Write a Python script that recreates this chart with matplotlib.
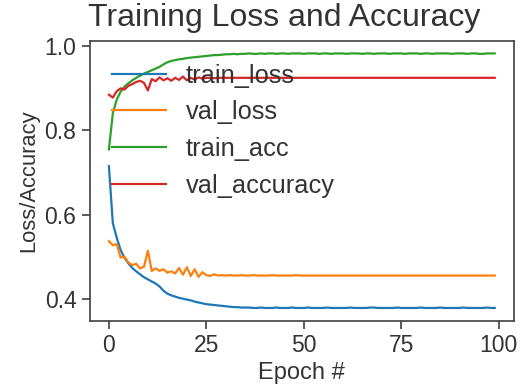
import numpy as np
import matplotlib
matplotlib.use("Agg")
from matplotlib import pyplot as plt

# values, one per epoch (0..99)
train_loss = [0.715, 0.580, 0.545, 0.516, 0.497, 0.484, 0.473, 0.465, 0.458, 0.451,
              0.446, 0.441, 0.436, 0.429, 0.419, 0.412, 0.408, 0.405, 0.402, 0.400,
              0.398, 0.396, 0.393, 0.391, 0.389, 0.387, 0.386, 0.385, 0.384, 0.383,
              0.382, 0.381, 0.380, 0.380, 0.379, 0.379, 0.379, 0.378, 0.378, 0.379,
              0.378, 0.378, 0.378, 0.379, 0.378, 0.378, 0.378, 0.379, 0.378, 0.378,
              0.378, 0.379, 0.378, 0.378, 0.378, 0.378, 0.379, 0.378, 0.378, 0.378,
              0.378, 0.378, 0.379, 0.378, 0.378, 0.378, 0.378, 0.379, 0.379, 0.378,
              0.378, 0.378, 0.378, 0.378, 0.379, 0.378, 0.378, 0.378, 0.378, 0.378,
              0.379, 0.378, 0.378, 0.378, 0.378, 0.379, 0.378, 0.378, 0.378, 0.378,
              0.378, 0.379, 0.378, 0.378, 0.378, 0.378, 0.378, 0.379, 0.378, 0.378]

val_loss = [0.537, 0.527, 0.530, 0.498, 0.500, 0.486, 0.480, 0.483, 0.472, 0.476,
            0.514, 0.466, 0.472, 0.466, 0.470, 0.462, 0.465, 0.460, 0.473, 0.457,
            0.475, 0.454, 0.470, 0.452, 0.463, 0.456, 0.454, 0.458, 0.455, 0.456,
            0.455, 0.456, 0.455, 0.455, 0.456, 0.455, 0.455, 0.456, 0.455, 0.455,
            0.455, 0.455, 0.456, 0.455, 0.455, 0.455, 0.455, 0.455, 0.456, 0.455,
            0.455, 0.455, 0.455, 0.455, 0.455, 0.455, 0.455, 0.455, 0.455, 0.455,
            0.455, 0.455, 0.455, 0.455, 0.455, 0.455, 0.455, 0.455, 0.455, 0.455,
            0.455, 0.455, 0.455, 0.455, 0.455, 0.455, 0.455, 0.455, 0.455, 0.455,
            0.455, 0.455, 0.455, 0.455, 0.455, 0.455, 0.455, 0.455, 0.455, 0.455,
            0.455, 0.455, 0.455, 0.455, 0.455, 0.455, 0.455, 0.455, 0.455, 0.455]

train_acc = [0.755, 0.840, 0.873, 0.892, 0.904, 0.912, 0.919, 0.925, 0.930, 0.935,
             0.939, 0.943, 0.947, 0.951, 0.957, 0.962, 0.965, 0.967, 0.969, 0.970,
             0.972, 0.973, 0.974, 0.975, 0.976, 0.977, 0.978, 0.979, 0.979, 0.980,
             0.981, 0.981, 0.982, 0.981, 0.982, 0.982, 0.983, 0.982, 0.982, 0.983,
             0.982, 0.983, 0.983, 0.982, 0.983, 0.983, 0.982, 0.983, 0.983, 0.983,
             0.982, 0.983, 0.983, 0.983, 0.982, 0.983, 0.983, 0.982, 0.983, 0.983,
             0.983, 0.982, 0.983, 0.983, 0.983, 0.982, 0.983, 0.983, 0.982, 0.983,
             0.983, 0.983, 0.982, 0.983, 0.983, 0.983, 0.982, 0.983, 0.983, 0.983,
             0.982, 0.983, 0.983, 0.982, 0.983, 0.983, 0.983, 0.983, 0.982, 0.983,
             0.983, 0.983, 0.982, 0.983, 0.983, 0.982, 0.982, 0.983, 0.983, 0.983]

val_accuracy = [0.885, 0.878, 0.893, 0.900, 0.897, 0.906, 0.910, 0.915, 0.918, 0.913,
                0.895, 0.922, 0.917, 0.926, 0.919, 0.924, 0.918, 0.925, 0.920, 0.928,
                0.919, 0.925, 0.921, 0.926, 0.923, 0.925, 0.925, 0.924, 0.925, 0.925,
                0.925, 0.925, 0.925, 0.925, 0.925, 0.925, 0.925, 0.925, 0.925, 0.925,
                0.925, 0.925, 0.925, 0.925, 0.925, 0.925, 0.925, 0.925, 0.925, 0.925,
                0.925, 0.925, 0.925, 0.925, 0.925, 0.925, 0.925, 0.925, 0.925, 0.925,
                0.925, 0.925, 0.925, 0.925, 0.925, 0.925, 0.925, 0.925, 0.925, 0.925,
                0.925, 0.925, 0.925, 0.925, 0.925, 0.925, 0.925, 0.925, 0.925, 0.925,
                0.925, 0.925, 0.925, 0.925, 0.925, 0.925, 0.925, 0.925, 0.925, 0.925,
                0.925, 0.925, 0.925, 0.925, 0.925, 0.925, 0.925, 0.925, 0.925, 0.925]

epochs = np.arange(len(train_loss))

plt.rcParams['font.family'] = ['Liberation Sans', 'DejaVu Sans']
plt.rcParams['text.color'] = '.2'
plt.rcParams['axes.labelcolor'] = '.2'
plt.rcParams['xtick.color'] = '.2'
plt.rcParams['ytick.color'] = '.2'

fig = plt.figure(figsize=(5.21, 3.89), dpi=100)
ax = fig.add_axes([0.172, 0.1756, 0.8146, 0.7198])

ax.plot(epochs, train_loss, label="train_loss", color='#1f77b4', lw=1.6)
ax.plot(epochs, val_loss, label="val_loss", color='#ff7f0e', lw=1.6)
ax.plot(epochs, train_acc, label="train_acc", color='#2ca02c', lw=1.6)
ax.plot(epochs, val_accuracy, label="val_accuracy", color='#d62728', lw=1.6)

for s in ax.spines.values():
    s.set_color('.25')
    s.set_linewidth(1.2)
ax.tick_params(labelsize=16.5, length=6, width=1.2, color='.25')
ax.set_xticks([0, 25, 50, 75, 100])
ax.set_yticks([0.4, 0.6, 0.8, 1.0])

ax.set_title("Training Loss and Accuracy", fontsize=23, x=0.458, pad=10.5)
ax.set_xlabel("Epoch #", fontsize=17)
ax.set_ylabel("Loss/Accuracy", fontsize=15.8)
ax.legend(loc='upper left', bbox_to_anchor=(0.0, 1.0), frameon=False,
          fontsize=18.3, handlelength=2.09, handletextpad=0.79, labelspacing=0.5)

fig.savefig("out.png", dpi=100)
